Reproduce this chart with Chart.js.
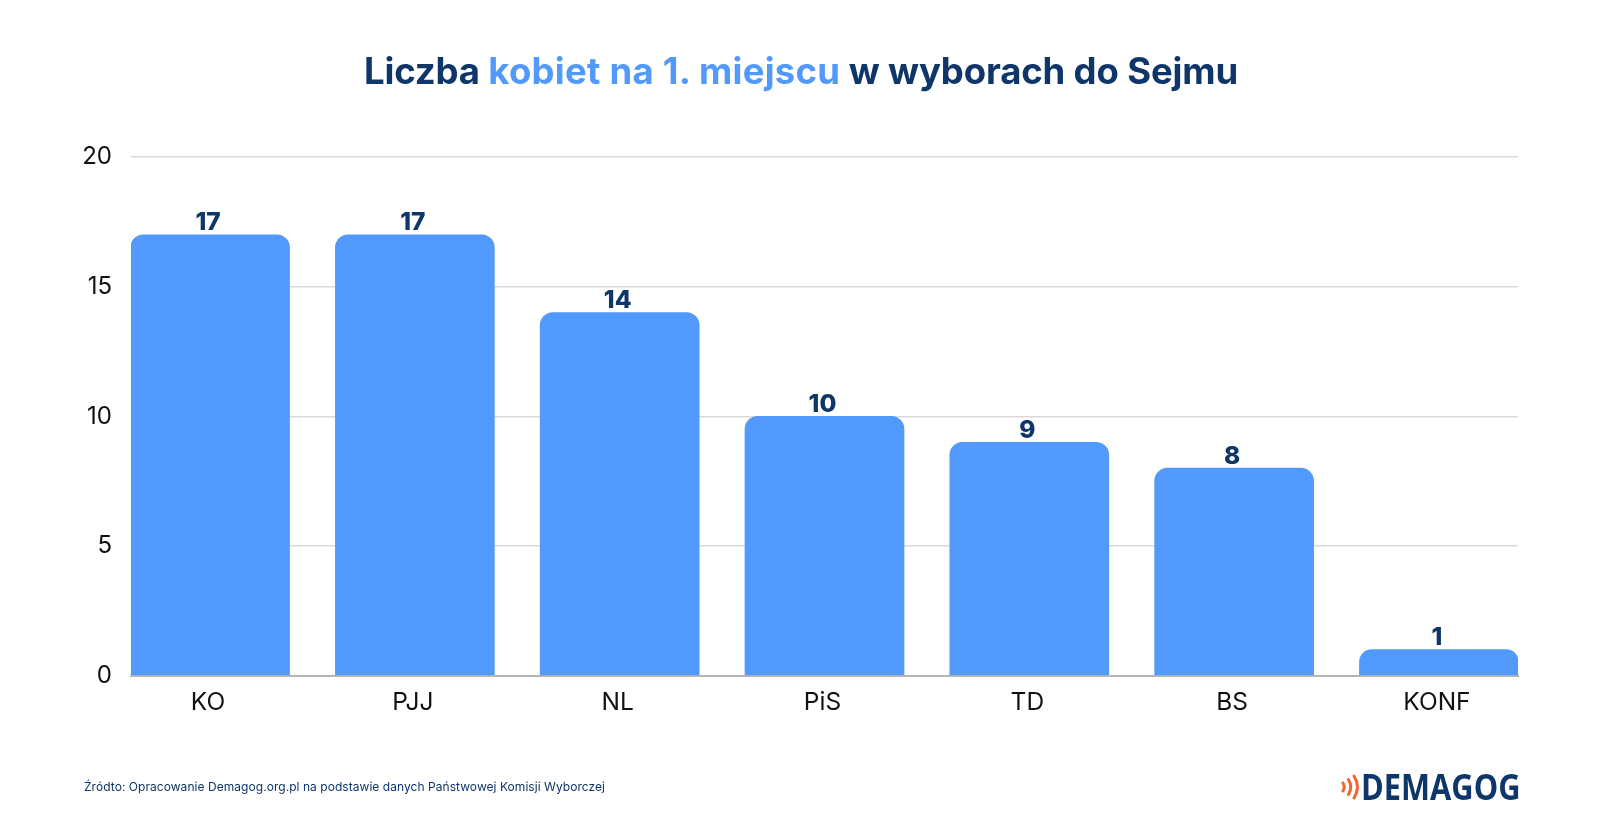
<!DOCTYPE html>
<html lang="pl">
<head>
<meta charset="utf-8">
<title>Liczba kobiet na 1. miejscu</title>
<script src="https://cdn.jsdelivr.net/npm/chart.js@4"></script>
<style>
  html, body { margin: 0; padding: 0; background: #fff; }
  body { width: 1602px; height: 834px; position: relative; overflow: hidden; font-family: Inter, sans-serif; }
  #title { position: absolute; left: 0; top: 46px; width: 1602px; margin: 0; text-align: center; font-size: 36.5px; line-height: 50px; font-weight: 700; letter-spacing: -0.15px; color: #0e3668; }
  #title span { color: #5199fa; letter-spacing: 0.25px; }
  #chart-box { position: absolute; left: 0; top: 0; width: 1602px; height: 834px; }
  #source { position: absolute; left: 84px; top: 779px; font-size: 12px; line-height: 16px; letter-spacing: 0.05px; color: #0e3668; }
  #logo { position: absolute; left: 1346px; top: 767px; width: 186px; height: 40px; }
  #logo-text { position: absolute; left: 15px; top: 0; font-family: "Open Sans", sans-serif; font-weight: 700; font-size: 35px; line-height: 40px; color: #0e3668; transform: scaleX(0.88); transform-origin: left center; }
  #logo svg { position: absolute; left: -5px; top: 0; }
</style>
</head>
<body>
<div id="chart-box"><canvas id="women-chart" width="1602" height="834"></canvas></div>
<h1 id="title">Liczba <span>kobiet na 1. miejscu</span> w wyborach do Sejmu</h1>
<div id="source">Źródto: Opracowanie Demagog.org.pl na podstawie danych Państwowej Komisji Wyborczej</div>
<div id="logo">
  <svg width="22" height="40" viewBox="0 0 22 40">
    <g fill="none" stroke="#f0652f" stroke-linecap="round" stroke-width="3">
      <path d="M2 16 Q4.5 20 2 24"/>
      <path d="M7.5 12.5 Q12 20 7.5 27.5"/>
      <path d="M13 9 Q20 20 13 31"/>
    </g>
  </svg>
  <div id="logo-text">DEMAGOG</div>
</div>

<script>
// Data
const parties = ['KO', 'PJJ', 'NL', 'PiS', 'TD', 'BS', 'KONF'];
const womenFirst = [17, 17, 14, 10, 9, 8, 1];
const yTicks = [0, 5, 10, 15, 20];

const NAVY = '#0e3668';
const BLUE = '#5199fa';
const BAR_WIDTH = 159;

// value above every bar
const valueLabels = {
  id: 'valueLabels',
  afterDatasetsDraw(chart) {
    const ctx = chart.ctx;
    const bars = chart.getDatasetMeta(0).data;
    ctx.save();
    ctx.font = '800 24.5px Inter';
    ctx.fillStyle = NAVY;
    ctx.textAlign = 'center';
    ctx.textBaseline = 'middle';
    bars.forEach((bar, i) => {
      ctx.fillText(womenFirst[i], bar.x - 2, bar.y - 12);
    });
    ctx.restore();
  }
};

new Chart(document.getElementById('women-chart'), {
  type: 'bar',
  data: {
    labels: parties,
    datasets: [{
      data: womenFirst,
      backgroundColor: BLUE,
      barThickness: BAR_WIDTH,
      borderRadius: { topLeft: 13, topRight: 13 },
      borderSkipped: 'bottom'
    }]
  },
  options: {
    responsive: false,
    animation: false,
    layout: { padding: { left: 0, right: 84, top: 157, bottom: 113 } },
    plugins: { legend: { display: false }, tooltip: { enabled: false } },
    scales: {
      x: {
        offset: false,
        // bars sit flush with both ends of the gridlines
        afterBuildTicks(scale) {
          const half = 0.386;
          scale._startValue = -half;
          scale._valueRange = parties.length - 1 + half * 2;
        },
        grid: { display: false },
        border: { color: '#b5b5b5', width: 2 },
        ticks: {
          color: '#111',
          font: { family: 'Inter', size: 24.5 },
          padding: 4,
          labelOffset: -2,
          maxRotation: 0,
          autoSkip: false
        }
      },
      y: {
        min: 0,
        max: 20,
        afterFit(scale) { scale.width = 131; },
        afterBuildTicks(scale) { scale.ticks = yTicks.map(v => ({ value: v })); },
        grid: { color: '#d9d9d9', lineWidth: 1.5, drawTicks: false },
        border: { display: false },
        ticks: {
          color: '#111',
          font: { family: 'Inter', size: 24 },
          padding: 19
        }
      }
    }
  },
  plugins: [valueLabels]
});
</script>
</body>
</html>
